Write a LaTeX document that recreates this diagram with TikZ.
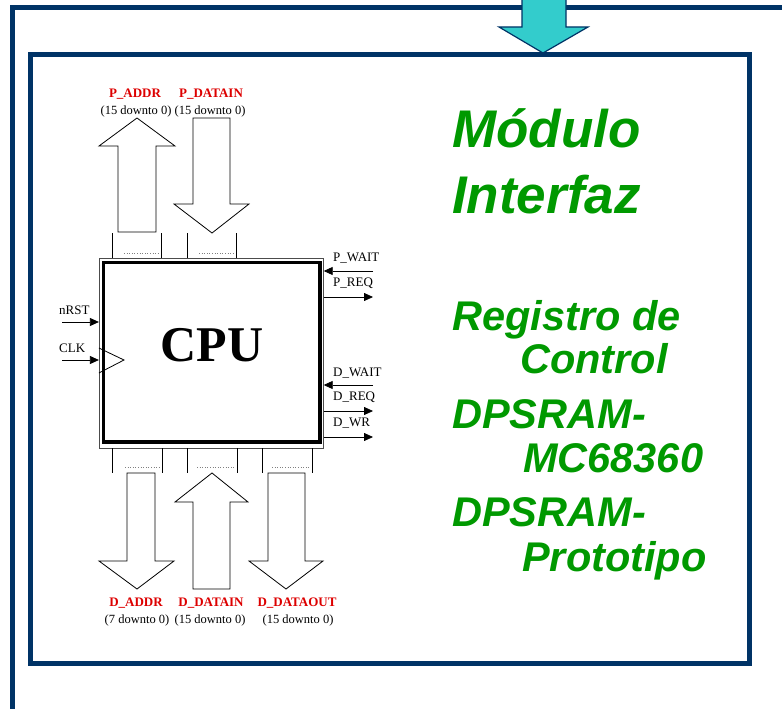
\documentclass[tikz,border=0pt]{standalone}
\usepackage{fontspec}
\setmainfont{Liberation Serif}
\newfontfamily\arialf{Liberation Sans}
\usetikzlibrary{arrows.meta}
\definecolor{navy}{HTML}{003366}
\definecolor{cyanf}{HTML}{33CCCC}
\definecolor{grn}{HTML}{009900}
\definecolor{redl}{HTML}{DD0000}
\begin{document}
\begin{tikzpicture}[x=1pt,y=-1pt,
  frame/.style={draw=navy,line width=5pt},
  blockarrow/.style={draw=black,line width=0.8pt,fill=white,line join=miter},
  sig/.style={-{Triangle[length=9pt,width=8pt]},line width=0.8pt},
  lbl/.style={font=\fontsize{13}{14}\selectfont,inner sep=0pt,anchor=west},
  buslbl/.style={font=\fontsize{13}{14}\selectfont\bfseries,text=redl,inner sep=0pt},
  rng/.style={font=\fontsize{12.5}{14}\selectfont,inner sep=0pt},
  title/.style={font=\arialf\bfseries\itshape\fontsize{53}{60}\selectfont,text=grn,inner sep=0pt,anchor=base west},
  item/.style={font=\arialf\bfseries\itshape\fontsize{41.5}{48}\selectfont,text=grn,inner sep=0pt,anchor=base west},
  tick/.style={line width=0.8pt},
  dots/.style={dotted,line width=0.6pt,gray}
]
\useasboundingbox (0,0) rectangle (782,709);
\fill[white] (0,0) rectangle (782,709);
% outer frame
\draw[frame] (12,730) -- (12,8) -- (800,8);
% cyan arrow
\draw[fill=cyanf,draw=navy,line width=1.2pt,line join=miter] (522,-5) -- (522,27) -- (499,27) -- (543,53) -- (588,27) -- (566,27) -- (566,-5);
% inner frame
\draw[frame] (30,55) rectangle (749,663);

% CPU block
\node[draw=gray!60!black,line width=0.8pt,minimum width=224pt,minimum height=190pt,inner sep=0pt] (cpu) at (211.3,353.3) {};
\draw[line width=3.5pt] (103.3,262.5) rectangle (320,442);
\node[font=\bfseries\fontsize{50}{50}\selectfont,inner sep=0pt,anchor=base] (cputxt) at (212,361) {CPU};
% clock triangle
\draw[line width=0.8pt] (cpu.west |- 0,348) -- (124,360) -- (cpu.west |- 0,373);

% left inputs
\node[lbl] (nrst) at (59,310) {nRST};
\coordinate (nrsts) at (62,322);
\draw[sig] (nrsts) -- (nrsts -| cpu.west);
\node[lbl] (clk) at (59,348) {CLK};
\coordinate (clks) at (62,360);
\draw[sig] (clks) -- (clks -| cpu.west);

% right signals
\node[lbl] (pwait) at (333,258) {P\_WAIT};
\coordinate (pwaits) at (373,271);
\draw[sig] (pwaits) -- (pwaits -| cpu.east);
\node[lbl] (preq) at (333,283) {P\_REQ};
\coordinate (preqe) at (373,297);
\draw[sig] (preqe -| cpu.east) -- (preqe);
\node[lbl] (dwait) at (333,373) {D\_WAIT};
\coordinate (dwaits) at (373,385);
\draw[sig] (dwaits) -- (dwaits -| cpu.east);
\node[lbl] (dreq) at (333,397) {D\_REQ};
\coordinate (dreqe) at (373,411);
\draw[sig] (dreqe -| cpu.east) -- (dreqe);
\node[lbl] (dwr) at (333,423) {D\_WR};
\coordinate (dwre) at (373,437);
\draw[sig] (dwre -| cpu.east) -- (dwre);

% top buses
\foreach \x in {112,161,187,236} \draw[tick] (\x,233) -- (\x,258);
\draw[dots] (124,253) -- (160,253);
\draw[dots] (199,253) -- (235,253);
\draw[blockarrow] (118,232) -- (118,146) -- (99,146) -- (137,118) -- (175,146) -- (156,146) -- (156,232) -- cycle;
\draw[blockarrow] (193,118) -- (230,118) -- (230,204) -- (249,204) -- (212,233) -- (174,204) -- (193,204) -- cycle;
\node[buslbl] (paddr) at (135,94) {P\_ADDR};
\node[buslbl] (pdatain) at (211,94) {P\_DATAIN};
\node[rng] (paddrr) at (136,111) {(15 downto 0)};
\node[rng] (pdatainr) at (210,111) {(15 downto 0)};

% bottom buses
\foreach \x in {112,162,187,237,262,312} \draw[tick] (\x,448) -- (\x,473);
\draw[dots] (125,467) -- (160,467);
\draw[dots] (197,467) -- (235,467);
\draw[dots] (272,467) -- (310,467);
\draw[blockarrow] (127,473) -- (155,473) -- (155,561) -- (174,561) -- (137,589) -- (99,561) -- (127,561) -- cycle;
\draw[blockarrow] (193,589) -- (193,502) -- (175,502) -- (212,473) -- (248,502) -- (230,502) -- (230,589) -- cycle;
\draw[blockarrow] (268,473) -- (305,473) -- (305,561) -- (323,561) -- (286,589) -- (249,561) -- (268,561) -- cycle;
\node[buslbl] (daddr) at (136,603) {D\_ADDR};
\node[buslbl] (ddatain) at (211,603) {D\_DATAIN};
\node[buslbl] (ddataout) at (297,603) {D\_DATAOUT};
\node[rng] (daddrr) at (137,620) {(7 downto 0)};
\node[rng] (ddatainr) at (210,620) {(15 downto 0)};
\node[rng] (ddataoutr) at (298,620) {(15 downto 0)};

% green text
\node[title] (t1) at (452,147) {Módulo};
\node[title] (t2) at (452,213) {Interfaz};
\node[item] (i1) at (452,330) {Registro de};
\node[item] (i2) at (520,373) {Control};
\node[item] (i3) at (452,428) {DPSRAM-};
\node[item] (i4) at (523,472) {MC68360};
\node[item] (i5) at (452,526) {DPSRAM-};
\node[item] (i6) at (522,571) {Prototipo};
\end{tikzpicture}
\end{document}
